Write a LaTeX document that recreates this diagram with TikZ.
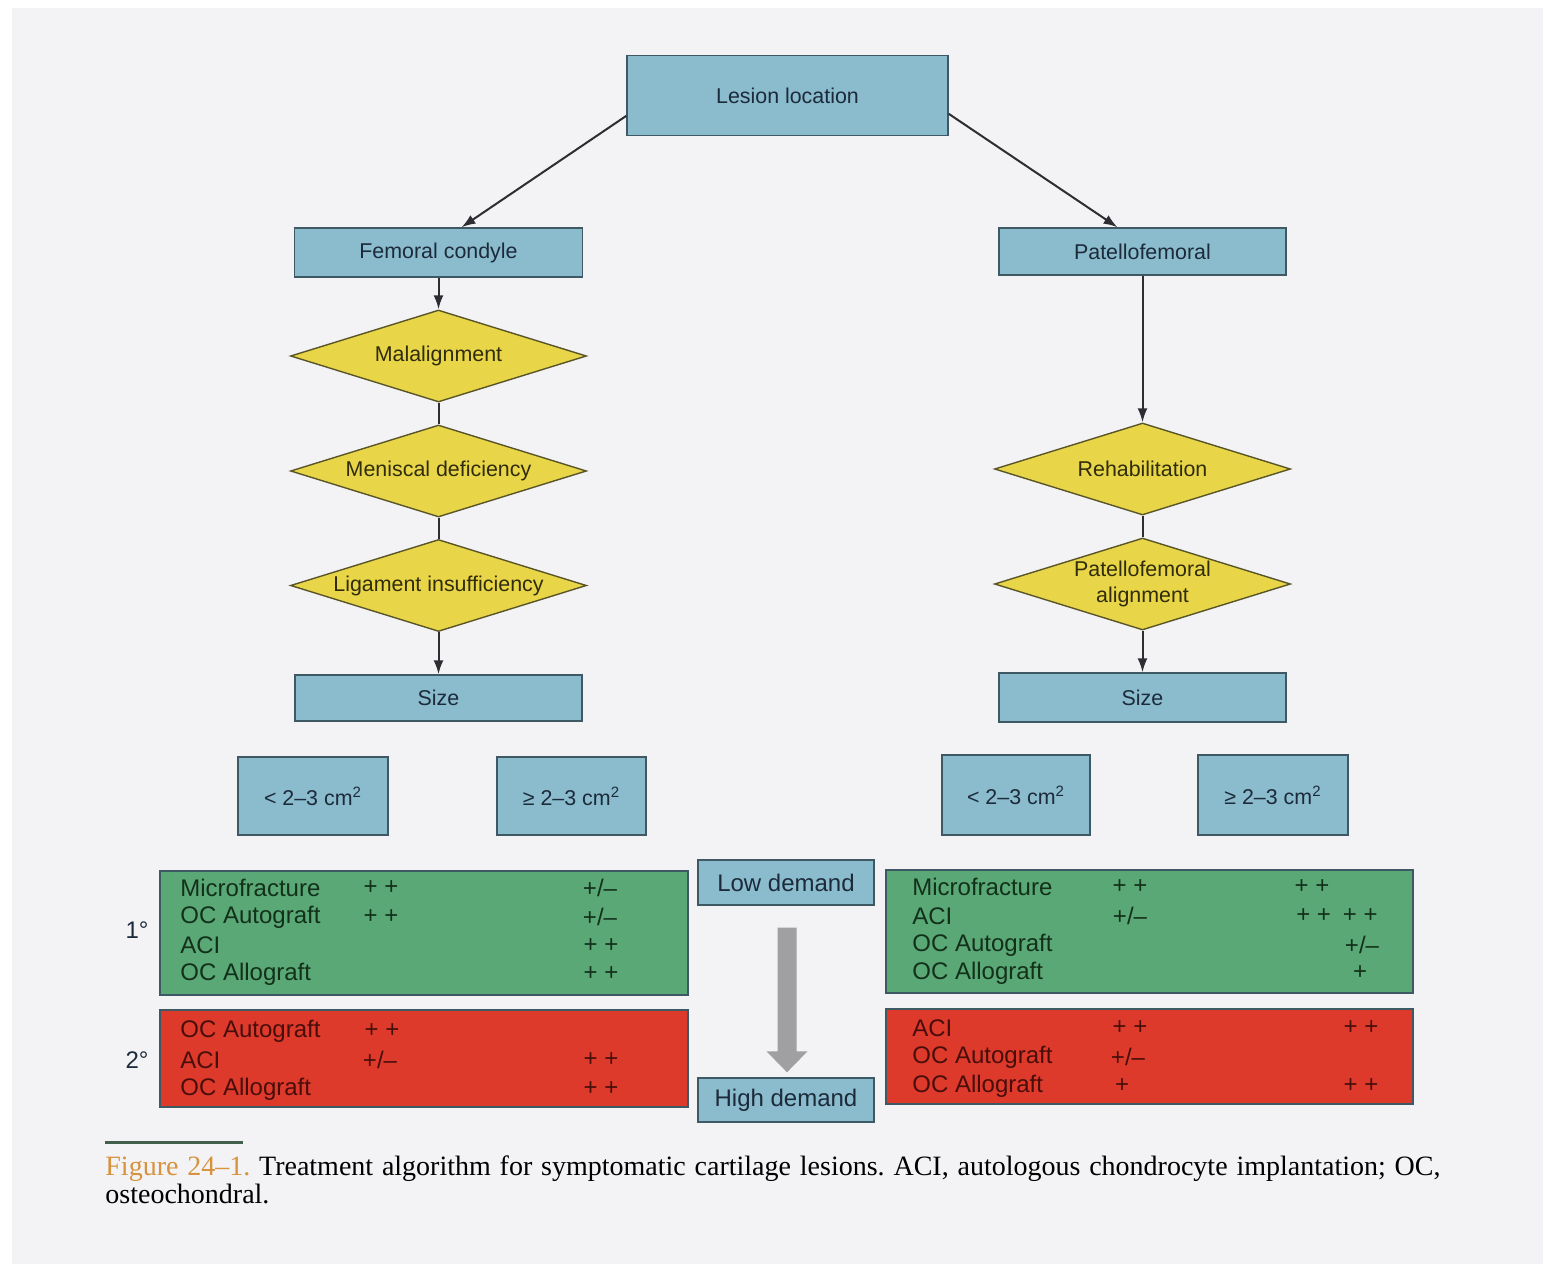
\documentclass[tikz,border=0pt]{standalone}
\usepackage{fontspec}
\setmainfont{Liberation Serif}
\setsansfont{Liberation Sans}
\usetikzlibrary{shapes.geometric,arrows.meta,calc}
\definecolor{pagebg}{RGB}{243,243,245}
\definecolor{bluefill}{RGB}{138,188,205}
\definecolor{boxedge}{RGB}{62,88,100}
\definecolor{bluetext}{RGB}{28,42,58}
\definecolor{yellowfill}{RGB}{232,214,72}
\definecolor{diaedge}{RGB}{90,85,40}
\definecolor{diatext}{RGB}{48,44,12}
\definecolor{greenfill}{RGB}{90,168,118}
\definecolor{greentext}{RGB}{18,48,26}
\definecolor{redfill}{RGB}{222,58,44}
\definecolor{redtext}{RGB}{72,14,10}
\definecolor{connc}{RGB}{45,45,50}
\definecolor{grayarrow}{RGB}{160,160,162}
\definecolor{capor}{RGB}{214,146,60}
\definecolor{rulegreen}{RGB}{66,96,76}
\begin{document}
\begin{tikzpicture}[x=0.5pt,y=-0.5pt,font=\sffamily,
  bluebox/.style={draw=boxedge,fill=bluefill,line width=0.7pt,inner sep=0pt,text=bluetext,font=\sffamily\fontsize{10.7}{12.5}\selectfont},
  bigbluebox/.style={bluebox,font=\sffamily\fontsize{12}{14}\selectfont},
  dia/.style={diamond,aspect=3.2,draw=diaedge,fill=yellowfill,line width=0.7pt,inner sep=0pt,minimum width=148pt,minimum height=46pt,text=diatext,align=center,font=\sffamily\fontsize{10.7}{13}\selectfont},
  greenbox/.style={draw=boxedge,fill=greenfill,line width=0.7pt,inner sep=0pt},
  redbox/.style={draw=boxedge,fill=redfill,line width=0.7pt,inner sep=0pt},
  gtxt/.style={anchor=west,inner sep=0pt,text=greentext,font=\sffamily\fontsize{12}{14}\selectfont},
  gsym/.style={anchor=center,inner sep=0pt,text=greentext,font=\sffamily\fontsize{12}{14}\selectfont},
  rtxt/.style={anchor=west,inner sep=0pt,text=redtext,font=\sffamily\fontsize{12}{14}\selectfont},
  rsym/.style={anchor=center,inner sep=0pt,text=redtext,font=\sffamily\fontsize{12}{14}\selectfont},
  deg/.style={inner sep=0pt,text=bluetext,font=\sffamily\fontsize{12}{14}\selectfont},
  conn/.style={draw=connc,line width=1pt},
  arr/.style={conn,-{Latex[length=7pt,width=5pt]}}]
\useasboundingbox (0,0) rectangle (1543,1264);
\fill[pagebg] (0,0) rectangle (1543,1264);
\fill[white] (0,0) rectangle (12,1264);
\fill[white] (0,0) rectangle (1543,8);

% top
\node[bluebox,minimum width=160.5pt,minimum height=40pt] (les) at (787.5,95.5) {Lesion location};
\node[bluebox,minimum width=144pt,minimum height=24.5pt] (fem) at (438.5,252.5) {Femoral condyle};
\node[bluebox,minimum width=143.5pt,minimum height=23.5pt] (pf) at (1142.5,251.5) {Patellofemoral};

% left column
\node[dia] (mal) at (438.5,356) {Malalignment};
\node[dia] (men) at (438.5,471) {Meniscal deficiency};
\node[dia] (lig) at (438.5,585.5) {Ligament insufficiency};
\node[bluebox,minimum width=143.5pt,minimum height=23pt] (sizeL) at (438.5,698) {Size};
\node[bluebox,minimum width=75pt,minimum height=39pt] (smL1) at (313,796) {< 2–3 cm\textsuperscript{2}};
\node[bluebox,minimum width=74.5pt,minimum height=39pt] (smL2) at (571.5,796) {≥ 2–3 cm\textsuperscript{2}};

% right column
\node[dia] (reh) at (1142.5,469) {Rehabilitation};
\node[dia] (pfa) at (1142.5,584) {Patellofemoral\\alignment};
\node[bluebox,minimum width=143.5pt,minimum height=24.5pt] (sizeR) at (1142.5,697.5) {Size};
\node[bluebox,minimum width=74pt,minimum height=40pt] (smR1) at (1016,795) {< 2–3 cm\textsuperscript{2}};
\node[bluebox,minimum width=75pt,minimum height=40pt] (smR2) at (1273,795) {≥ 2–3 cm\textsuperscript{2}};

% connectors
\draw[arr] ($(les.west)!0.5!(les.south west)$) -- ($(fem.north)+(23,0)$);
\draw[arr] ($(les.east)!0.45!(les.south east)$) -- ($(pf.north)+(-25,0)$);
\draw[arr] (fem.south) -- (mal.north);
\draw[conn] (mal.south) -- (men.north);
\draw[conn] (men.south) -- (lig.north);
\draw[arr] (lig.south) -- (sizeL.north);
\draw[arr] (pf.south) -- (reh.north);
\draw[conn] (reh.south) -- (pfa.north);
\draw[arr] (pfa.south) -- (sizeR.north);

% demand
\node[bigbluebox,minimum width=88pt,minimum height=22.5pt] (low) at (786,882.5) {Low demand};
\node[bigbluebox,minimum width=88pt,minimum height=22pt] (high) at (786,1100) {High demand};
\coordinate (gtop) at ($(low.south)+(1,22)$);
\coordinate (gtip) at ($(high.north)+(1,-5)$);
\fill[grayarrow] ($(gtop)+(-9.5,0)$) -- ($(gtop)+(9.5,0)$) -- ($(gtip)+(9.5,-21)$) -- ($(gtip)+(20.5,-21)$) -- (gtip) -- ($(gtip)+(-20.5,-21)$) -- ($(gtip)+(-9.5,-21)$) -- cycle;

% left tables
\node[greenbox,minimum width=264pt,minimum height=62pt] (lgreen) at (424,933) {};
\node[redbox,minimum width=264pt,minimum height=48.5pt] (lred) at (424,1058.5) {};
\node[deg] (d1) at (137,930) {1°};
\node[deg] (d2) at (137,1060) {2°};
\node[gtxt] (lg1) at (180,888) {Microfracture};
\node[gtxt] (lg2) at (180,917) {OC Autograft};
\node[gtxt] (lg3) at (180,945.5) {ACI};
\node[gtxt] (lg4) at (180,974) {OC Allograft};
\node[gsym] (lg1a) at (381,888) {+ +};
\node[gsym] (lg2a) at (381,917) {+ +};
\node[gsym] (lg1b) at (600,888) {+/–};
\node[gsym] (lg2b) at (600,917) {+/–};
\node[gsym] (lg3b) at (601,945.5) {+ +};
\node[gsym] (lg4b) at (601,974) {+ +};
\node[rtxt] (lr1) at (180,1031) {OC Autograft};
\node[rtxt] (lr2) at (180,1060) {ACI};
\node[rtxt] (lr3) at (180,1089) {OC Allograft};
\node[rsym] (lr1a) at (382,1031) {+ +};
\node[rsym] (lr2a) at (380,1060) {+/–};
\node[rsym] (lr2b) at (601,1060) {+ +};
\node[rsym] (lr3b) at (601,1089) {+ +};

% right tables
\node[greenbox,minimum width=263.5pt,minimum height=61.5pt] (rgreen) at (1149.5,931.5) {};
\node[redbox,minimum width=263.5pt,minimum height=47.5pt] (rred) at (1149.5,1056.5) {};
\node[gtxt] (rg1) at (912,887) {Microfracture};
\node[gtxt] (rg2) at (912,916) {ACI};
\node[gtxt] (rg3) at (912,945) {OC Autograft};
\node[gtxt] (rg4) at (912,973) {OC Allograft};
\node[gsym] (rg1a) at (1130,887) {+ +};
\node[gsym] (rg2a) at (1130,916) {+/–};
\node[gsym] (rg1b) at (1312,887) {+ +};
\node[gsym] (rg2b) at (1337,916) {+ +\hspace{6pt}+ +};
\node[gsym] (rg3b) at (1362,945) {+/–};
\node[gsym] (rg4b) at (1360,973) {+};
\node[rtxt] (rr1) at (912,1028) {ACI};
\node[rtxt] (rr2) at (912,1057) {OC Autograft};
\node[rtxt] (rr3) at (912,1086) {OC Allograft};
\node[rsym] (rr1a) at (1130,1028) {+ +};
\node[rsym] (rr2a) at (1128,1057) {+/–};
\node[rsym] (rr3a) at (1122,1086) {+};
\node[rsym] (rr1b) at (1361,1028) {+ +};
\node[rsym] (rr3b) at (1361,1086) {+ +};

% caption
\fill[rulegreen] (105,1140.5) rectangle (243,1143.5);
\node[anchor=north west,inner sep=0pt,align=left,font=\rmfamily\fontsize{14}{14}\selectfont\frenchspacing] (cap) at (105,1155)
 {\makebox[667.5pt][s]{\textcolor{capor}{Figure 24–1.} Treatment algorithm for symptomatic cartilage lesions. ACI, autologous chondrocyte implantation; OC,}\\osteochondral.};
\end{tikzpicture}
\end{document}
